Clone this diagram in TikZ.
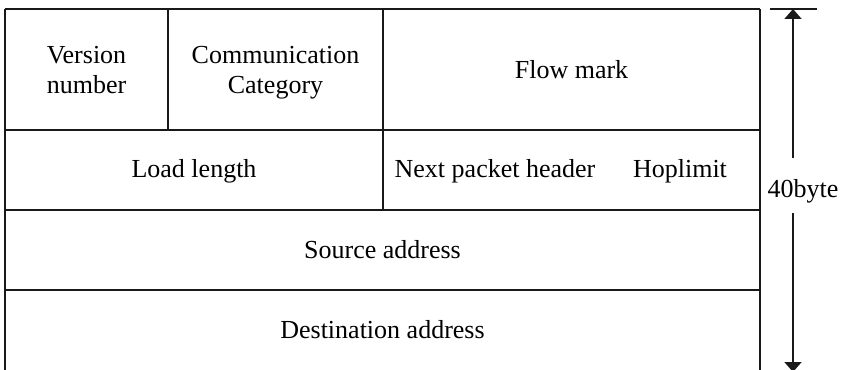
\documentclass[tikz,border=0pt]{standalone}
\usepackage{fontspec}
\setmainfont{Liberation Serif}
\usetikzlibrary{arrows.meta}
\begin{document}
\begin{tikzpicture}[x=1pt,y=-1pt,
  grid/.style={line width=1.8pt,black!90},
  lbl/.style={font=\fontsize{26pt}{30pt}\selectfont,align=center,inner sep=0pt,anchor=base},
  dim/.style={line width=1.8pt,black!90}]
\useasboundingbox (0,0) rectangle (842,369);
% table lines
\draw[grid] (5,9) -- (760,9);
\draw[grid] (5,9) -- (5,372);
\draw[grid] (760,9) -- (760,372);
\draw[grid] (5,130) -- (760,130);
\draw[grid] (5,210) -- (760,210);
\draw[grid] (5,290) -- (760,290);
\draw[grid] (168,9) -- (168,130);
\draw[grid] (383,9) -- (383,210);
% texts
\node[lbl] (ver) at (86.5,93) {Version\\number};
\node[lbl] (com) at (275.5,93) {Communication\\Category};
\node[lbl] (flow) at (571.5,78) {Flow mark};
\node[lbl] (load) at (194,177) {Load length};
\node[lbl] (next) at (495,177) {Next packet header};
\node[lbl] (hop) at (680,177) {Hoplimit};
\node[lbl] (src) at (382.5,258) {Source address};
\node[lbl] (dst) at (382.5,338) {Destination address};
% dimension
\draw[dim] (770,9) -- (817,9);
\node[lbl] (byte) at (803,197) {40byte};
\coordinate (atop) at (793,9);
\coordinate (abot) at (793,372);
\coordinate (gtop) at (793,158);
\coordinate (gbot) at (793,213);
\draw[dim,-{Triangle[length=10pt,width=17pt]}] (gtop) -- (atop);
\draw[dim,-{Triangle[length=10pt,width=17pt]}] (gbot) -- (abot);
\end{tikzpicture}
\end{document}
